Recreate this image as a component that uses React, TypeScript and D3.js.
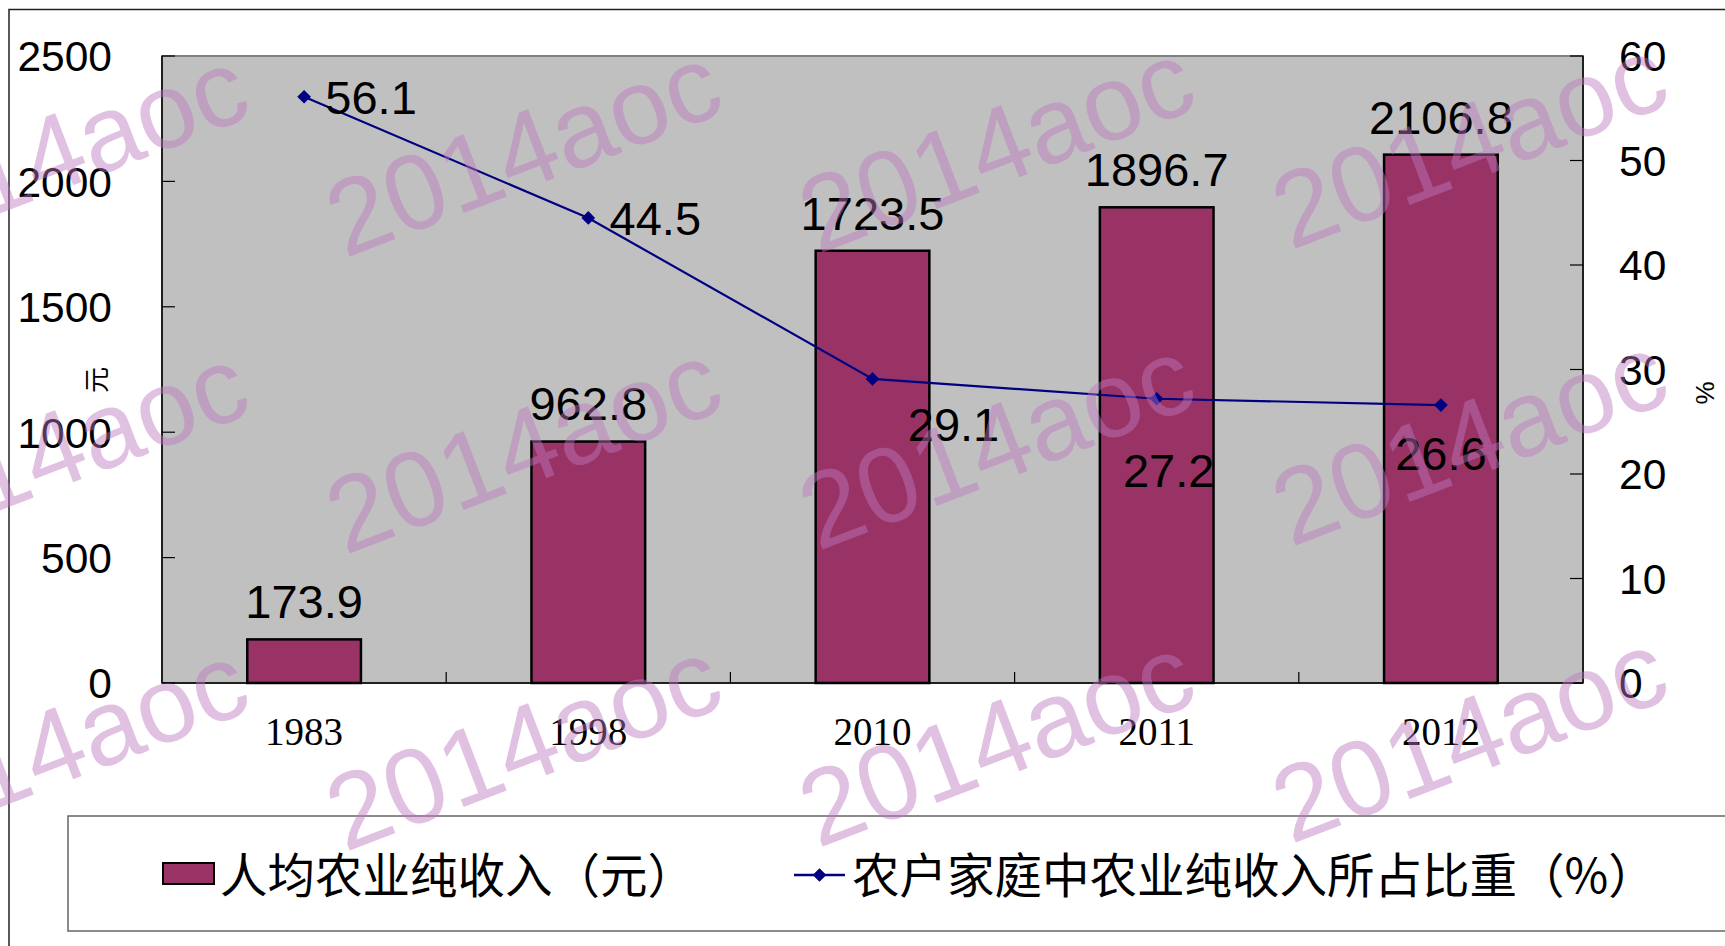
import React, { useEffect, useRef } from 'react';
import * as d3 from 'd3';

const years = ['1983', '1998', '2010', '2011', '2012'];
const income = [173.9, 962.8, 1723.5, 1896.7, 2106.8];
const share = [56.1, 44.5, 29.1, 27.2, 26.6];
const leftTicks = [0, 500, 1000, 1500, 2000, 2500];
const rightTicks = [0, 10, 20, 30, 40, 50, 60];
const barName = '人均农业纯收入（元）';
const lineName = '农户家庭中农业纯收入所占比重（%）';
const watermark = '2014aoc';

const W = 1725;
const H = 946;

const App = () => {
  const svgRef = useRef<SVGSVGElement>(null);

  useEffect(() => {
    const svg = d3.select(svgRef.current);
    svg.selectAll('*').remove();

    const left = 162, right = 1583, top = 56, bottom = 683;
    const sans = '"Liberation Sans", Arial, sans-serif';
    const cjk = '"Noto Sans CJK SC", sans-serif';

    // outer frame (runs past the window on right and bottom)
    svg.append('rect')
      .attr('x', 9).attr('y', 9.5).attr('width', 3000).attr('height', 3000)
      .attr('fill', '#fff').attr('stroke', '#222').attr('stroke-width', 1.5);

    const x = d3.scaleBand().domain(years).range([left, right]).paddingInner(0).paddingOuter(0);
    const yL = d3.scaleLinear().domain([0, 2500]).range([bottom, top]);
    const yR = d3.scaleLinear().domain([0, 60]).range([bottom, top]);
    const bw = x.bandwidth() * 0.4;

    // plot area
    svg.append('rect')
      .attr('x', left).attr('y', top).attr('width', right - left).attr('height', bottom - top)
      .attr('fill', '#c0c0c0').attr('stroke', '#808080').attr('stroke-width', 2);

    // bars
    svg.selectAll('.bar')
      .data(income)
      .enter()
      .append('rect')
      .attr('x', (d, i) => x(years[i])! + (x.bandwidth() - bw) / 2)
      .attr('y', d => yL(d))
      .attr('width', bw)
      .attr('height', d => bottom - yL(d))
      .attr('fill', '#993366')
      .attr('stroke', '#000')
      .attr('stroke-width', 2.5);

    // axes lines
    svg.append('line').attr('x1', left).attr('x2', left).attr('y1', top).attr('y2', bottom)
      .attr('stroke', '#000').attr('stroke-width', 1.5);
    svg.append('line').attr('x1', right).attr('x2', right).attr('y1', top).attr('y2', bottom)
      .attr('stroke', '#000').attr('stroke-width', 1.5);
    svg.append('line').attr('x1', left).attr('x2', right).attr('y1', bottom).attr('y2', bottom)
      .attr('stroke', '#000').attr('stroke-width', 1.5);

    // left ticks
    leftTicks.forEach(t => {
      svg.append('line').attr('x1', left).attr('x2', left + 13).attr('y1', yL(t)).attr('y2', yL(t))
        .attr('stroke', '#000').attr('stroke-width', 1.2);
      svg.append('text').attr('x', 112).attr('y', yL(t)).attr('dy', '0.36em')
        .attr('text-anchor', 'end').attr('font-family', sans).attr('font-size', 42.5)
        .attr('fill', '#000').text(t);
    });

    // right ticks
    rightTicks.forEach(t => {
      svg.append('line').attr('x1', right - 13).attr('x2', right).attr('y1', yR(t)).attr('y2', yR(t))
        .attr('stroke', '#000').attr('stroke-width', 1.2);
      svg.append('text').attr('x', 1619).attr('y', yR(t)).attr('dy', '0.36em')
        .attr('text-anchor', 'start').attr('font-family', sans).attr('font-size', 42.5)
        .attr('fill', '#000').text(t);
    });

    // category separators
    years.slice(1).forEach(yr => {
      const xx = x(yr)!;
      svg.append('line').attr('x1', xx).attr('x2', xx).attr('y1', bottom - 11).attr('y2', bottom)
        .attr('stroke', '#000').attr('stroke-width', 1.2);
    });

    // x labels
    svg.selectAll('.xl')
      .data(years)
      .enter()
      .append('text')
      .attr('x', d => x(d)! + x.bandwidth() / 2)
      .attr('y', 745)
      .attr('text-anchor', 'middle')
      .attr('font-family', '"Liberation Serif", "Times New Roman", serif')
      .attr('font-size', 39)
      .attr('fill', '#000')
      .text(d => d);

    // axis titles
    svg.append('text').attr('transform', 'translate(97,380) rotate(-90)')
      .attr('text-anchor', 'middle').attr('dy', '0.35em')
      .attr('font-family', cjk).attr('font-size', 26)
      .text('元');
    svg.append('text').attr('transform', 'translate(1705,393) rotate(-90)')
      .attr('text-anchor', 'middle').attr('dy', '0.35em')
      .attr('font-family', sans).attr('font-size', 26)
      .text('%');

    // bar labels
    svg.selectAll('.bl')
      .data(income)
      .enter()
      .append('text')
      .attr('x', (d, i) => x(years[i])! + x.bandwidth() / 2)
      .attr('y', d => yL(d) - 38)
      .attr('dy', '0.36em')
      .attr('text-anchor', 'middle')
      .attr('font-family', sans)
      .attr('font-size', 47)
      .attr('fill', '#000')
      .text(d => d.toFixed(1));

    // line
    const pts = share.map((v, i) => [x(years[i])! + x.bandwidth() / 2, yR(v)] as [number, number]);
    svg.append('path')
      .datum(pts)
      .attr('d', d3.line())
      .attr('fill', 'none')
      .attr('stroke', '#000080')
      .attr('stroke-width', 2.2);

    const diamond = d3.symbol().type(d3.symbolDiamond2).size(120);
    svg.selectAll('.pt')
      .data(pts)
      .enter()
      .append('path')
      .attr('d', diamond)
      .attr('transform', d => `translate(${d[0]},${d[1]})`)
      .attr('fill', '#000080');

    // line labels, nudged as in the original
    const nudge = [[67, 0], [67, 0], [81, 45], [12, 71], [0, 48]];
    svg.selectAll('.ll')
      .data(share)
      .enter()
      .append('text')
      .attr('x', (d, i) => pts[i][0] + nudge[i][0])
      .attr('y', (d, i) => pts[i][1] + nudge[i][1])
      .attr('dy', '0.36em')
      .attr('text-anchor', 'middle')
      .attr('font-family', sans)
      .attr('font-size', 47)
      .attr('fill', '#000')
      .text(d => d.toFixed(1));

    // legend
    svg.append('rect').attr('x', 68).attr('y', 816).attr('width', 3000).attr('height', 115)
      .attr('fill', '#fff').attr('stroke', '#666').attr('stroke-width', 1.5);
    svg.append('rect').attr('x', 163).attr('y', 863).attr('width', 51).attr('height', 21)
      .attr('fill', '#993366').attr('stroke', '#000').attr('stroke-width', 2);
    svg.append('text').attr('x', 220).attr('y', 893)
      .attr('font-family', cjk).attr('font-size', 47.5)
      .attr('fill', '#000').text(barName);
    svg.append('line').attr('x1', 794).attr('x2', 845).attr('y1', 875).attr('y2', 875)
      .attr('stroke', '#000080').attr('stroke-width', 2.5);
    svg.append('path').attr('d', diamond).attr('transform', 'translate(819.5,875)').attr('fill', '#000080');
    svg.append('text').attr('x', 852).attr('y', 893)
      .attr('font-family', cjk).attr('font-size', 47.5)
      .attr('fill', '#000').text(lineName);

    // watermarks on top
    const wmX = [50, 523, 996, 1469];
    const wmY = [154, 451, 748];
    wmY.forEach(cy => {
      wmX.forEach((cx, j) => {
        svg.append('text')
          .attr('transform', `translate(${cx},${cy - j * 4}) rotate(-21)`)
          .attr('text-anchor', 'middle')
          .attr('dy', '0.35em')
          .attr('font-family', sans)
          .attr('font-size', 107)
          .attr('fill', 'rgb(190,120,190)')
          .attr('opacity', 0.45)
          .text(watermark);
      });
    });
  }, []);

  return (
    <svg ref={svgRef} width={W} height={H}
      style={{ position: 'fixed', left: 0, top: 0, display: 'block', background: '#fff' }} />
  );
};

export default App;
